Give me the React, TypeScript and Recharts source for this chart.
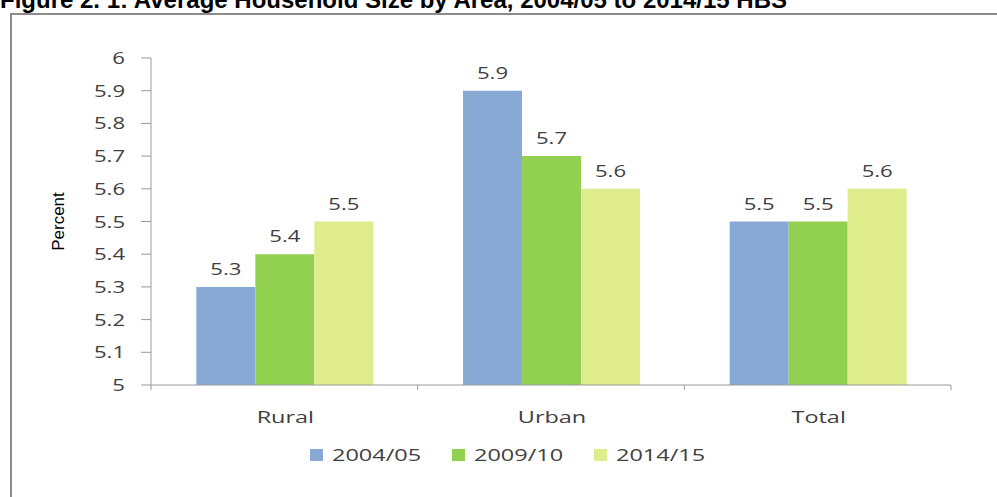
import { BarChart, Bar, XAxis, YAxis, Legend, LabelList } from 'recharts';

const areas = ['Rural', 'Urban', 'Total'];
const hbs2004 = [5.3, 5.9, 5.5];
const hbs2009 = [5.4, 5.7, 5.5];
const hbs2014 = [5.5, 5.6, 5.6];
const yTicks = [5, 5.1, 5.2, 5.3, 5.4, 5.5, 5.6, 5.7, 5.8, 5.9, 6];

const series = [
  { key: 'y2004', name: '2004/05', color: '#87a9d4' },
  { key: 'y2009', name: '2009/10', color: '#92d050' },
  { key: 'y2014', name: '2014/15', color: '#dfec8c' },
];

const data = areas.map((area, i) => ({
  area,
  y2004: hbs2004[i],
  y2009: hbs2009[i],
  y2014: hbs2014[i],
}));

// the source image is stretched sideways, so text gets a horizontal scale
const font = '"Open Sans", sans-serif';
const stretch = 1.38;
const fmt = (v: number) => String(Number(v.toFixed(1)));

function WideText({ x, y, size, anchor, children }: any) {
  return (
    <text
      transform={`translate(${x},${y}) scale(${stretch},1)`}
      textAnchor={anchor}
      fill="#404040"
      fontSize={size}
      fontFamily={font}
    >
      {children}
    </text>
  );
}

function CategoryTick(props: any) {
  const { x, y, payload, index } = props;
  const half = payload.offset || 0;
  return (
    <g>
      <line x1={x - half} y1={y - 8} x2={x - half} y2={y - 3} stroke="#9a9a9a" />
      {index === areas.length - 1 && (
        <line x1={x + half} y1={y - 8} x2={x + half} y2={y - 3} stroke="#9a9a9a" />
      )}
      <WideText x={x + 1} y={y + 30} size={17} anchor="middle">
        {payload.value}
      </WideText>
    </g>
  );
}

function ValueTick(props: any) {
  const { x, y, payload } = props;
  return (
    <WideText x={x} y={y + 6} size={16} anchor="end">
      {fmt(payload.value)}
    </WideText>
  );
}

function BarValue(props: any) {
  const { x, y, width, value } = props;
  return (
    <WideText x={x + width / 2} y={y - 12} size={16} anchor="middle">
      {fmt(value)}
    </WideText>
  );
}

function LegendBox() {
  return (
    <div style={{ display: 'flex', fontFamily: font, fontSize: 17, lineHeight: '20px', color: '#404040' }}>
      {series.map((s) => (
        <div key={s.key} style={{ display: 'flex', alignItems: 'center', width: 142 }}>
          <span style={{ width: 13, height: 12, background: s.color, marginRight: 9, display: 'inline-block' }} />
          <span style={{ display: 'inline-block', transform: `scaleX(${stretch})`, transformOrigin: 'left center' }}>
            {s.name}
          </span>
        </div>
      ))}
    </div>
  );
}

export default function App() {
  return (
    <div style={{ position: 'absolute', left: 0, top: 0, width: 997, height: 497, overflow: 'hidden', background: '#fff' }}>
      <div
        style={{
          position: 'absolute',
          left: 0,
          top: -14,
          fontFamily: '"Liberation Sans", Arial, sans-serif',
          fontWeight: 'bold',
          fontSize: 24,
          whiteSpace: 'nowrap',
          color: '#000',
        }}
      >
        Figure 2. 1: Average Household Size by Area, 2004/05 to 2014/15 HBS
      </div>
      <div
        style={{
          position: 'absolute',
          left: 10,
          top: 13,
          width: 1000,
          height: 500,
          borderTop: '2px solid #8c8c8c',
          borderLeft: '2px solid #8c8c8c',
        }}
      />
      <div style={{ position: 'absolute', left: 0, top: 0 }}>
        <BarChart
          width={997}
          height={497}
          data={data}
          margin={{ top: 58, right: 46, left: 0, bottom: 82 }}
          barGap={0}
          barCategoryGap="17%"
        >
          <XAxis
            dataKey="area"
            height={30}
            axisLine={{ stroke: '#9a9a9a' }}
            tickLine={false}
            tick={<CategoryTick />}
            interval={0}
          />
          <YAxis
            width={151}
            domain={[5, 6]}
            ticks={yTicks}
            interval={0}
            axisLine={{ stroke: '#9a9a9a' }}
            tickLine={{ stroke: '#9a9a9a' }}
            tickSize={10}
            tickMargin={16}
            tick={<ValueTick />}
            label={{
              value: 'Percent',
              angle: -90,
              position: 'insideLeft',
              offset: 58,
              style: { fill: '#000', fontSize: 17, fontFamily: '"Liberation Sans Narrow", "Liberation Sans", sans-serif', textAnchor: 'middle' },
            }}
          />
          <Legend
            layout="horizontal"
            verticalAlign="middle"
            align="center"
            wrapperStyle={{ position: 'absolute', left: 310, top: 445, width: 'auto' }}
            content={<LegendBox />}
          />
          {series.map((s) => (
            <Bar key={s.key} dataKey={s.key} name={s.name} fill={s.color} isAnimationActive={false}>
              <LabelList dataKey={s.key} content={<BarValue />} />
            </Bar>
          ))}
        </BarChart>
      </div>
    </div>
  );
}
